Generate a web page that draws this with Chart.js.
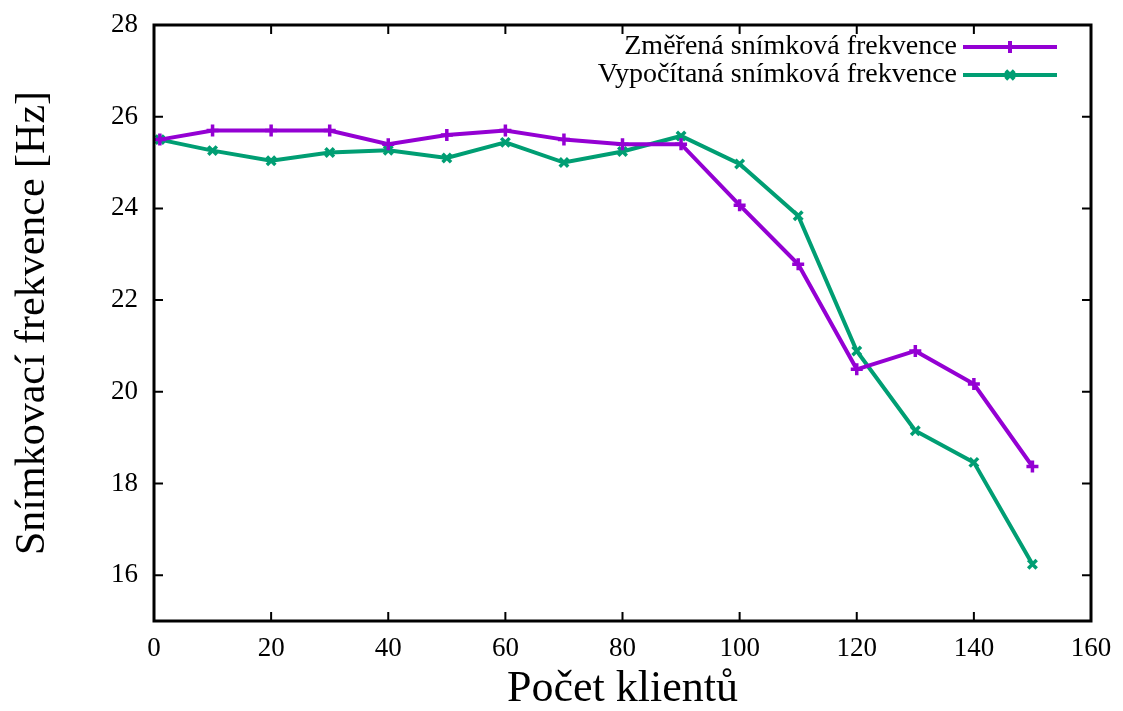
<!DOCTYPE html>
<html>
<head>
<meta charset="utf-8">
<script src="https://cdn.jsdelivr.net/npm/chart.js@4.4.1/dist/chart.umd.min.js"></script>
<style>
	html, body { margin: 0; padding: 0; background: #fff; }
	#wrap { width: 1123px; height: 711px; }
</style>
</head>
<body>
<div id="wrap"><canvas id="chart"></canvas></div>
<script>
const clients = [1, 10, 20, 30, 40, 50, 60, 70, 80, 90, 100, 110, 120, 130, 140, 150];
const measured = [25.5, 25.7, 25.7, 25.7, 25.4, 25.6, 25.7, 25.5, 25.4, 25.4, 24.07, 22.78, 20.49, 20.89, 20.17, 18.37];
const computed = [25.5, 25.26, 25.04, 25.22, 25.27, 25.1, 25.44, 25.0, 25.24, 25.58, 24.97, 23.84, 20.89, 19.15, 18.46, 16.24];
const xTicks = [0, 20, 40, 60, 80, 100, 120, 140, 160];
const yTicks = [16, 18, 20, 22, 24, 26, 28];
const labels = ['Změřená snímková frekvence', 'Vypočítaná snímková frekvence'];
const colors = ['#9400d3', '#009e73'];

const FONT = '"Liberation Serif", "DejaVu Serif", serif';

// frame, inward ticks on all four sides, and a gnuplot-like key
const framePlugin = {
	id: 'frame',
	afterDatasetsDraw(chart) {
		const ctx = chart.ctx;
		const a = chart.chartArea;
		const xs = chart.scales.x;
		const ys = chart.scales.y;
		ctx.save();
		ctx.strokeStyle = '#000';
		ctx.lineWidth = 2;
		const t = 9;
		xTicks.forEach(v => {
			const px = xs.getPixelForValue(v);
			ctx.beginPath();
			ctx.moveTo(px, a.bottom); ctx.lineTo(px, a.bottom - t);
			ctx.moveTo(px, a.top); ctx.lineTo(px, a.top + t);
			ctx.stroke();
		});
		yTicks.forEach(v => {
			const py = ys.getPixelForValue(v);
			ctx.beginPath();
			ctx.moveTo(a.left, py); ctx.lineTo(a.left + t, py);
			ctx.moveTo(a.right, py); ctx.lineTo(a.right - t, py);
			ctx.stroke();
		});
		ctx.lineWidth = 3;
		ctx.strokeRect(a.left, a.top, a.right - a.left, a.bottom - a.top);

		// key
		ctx.font = '28px ' + FONT;
		ctx.textAlign = 'right';
		ctx.textBaseline = 'middle';
		chart.data.datasets.forEach((ds, i) => {
			const y = 47 + i * 28;
			ctx.fillStyle = '#000';
			ctx.fillText(ds.label, 957, y);
			ctx.strokeStyle = ds.borderColor;
			ctx.lineWidth = ds.borderWidth;
			ctx.beginPath();
			ctx.moveTo(963, y); ctx.lineTo(1057, y);
			ctx.stroke();
			Chart.helpers.drawPoint(ctx, {
				pointStyle: ds.pointStyle,
				radius: ds.pointRadius,
				borderWidth: ds.pointBorderWidth,
			}, 1010, y);
		});
		ctx.restore();
	}
};

function series(i, values, style) {
	return {
		label: labels[i],
		data: clients.map((x, k) => ({ x: x, y: values[k] })),
		borderColor: colors[i],
		backgroundColor: colors[i],
		borderWidth: 4,
		pointStyle: style,
		pointRadius: 6,
		pointBorderWidth: 3.5,
		pointBorderColor: colors[i],
		tension: 0,
		fill: false,
	};
}

new Chart(document.getElementById('chart'), {
	type: 'line',
	data: {
		datasets: [
			series(0, measured, 'cross'),
			series(1, computed, 'crossRot'),
		],
	},
	options: {
		responsive: true,
		maintainAspectRatio: false,
		animation: false,
		layout: { padding: { left: 0, top: 25, right: 32, bottom: 0 } },
		plugins: {
			legend: { display: false },
			tooltip: { enabled: false },
		},
		scales: {
			x: {
				type: 'linear',
				min: 0,
				max: 160,
				afterBuildTicks(scale) { scale.ticks = xTicks.map(v => ({ value: v })); },
				afterFit(scale) {
					scale.height = 90;
					scale.paddingLeft = 0;
					scale.paddingRight = 0;
				},
				grid: { display: false, drawTicks: false },
				border: { display: false },
				ticks: {
					padding: 12,
					color: '#000',
					font: { family: FONT, size: 27 },
				},
				title: {
					display: true,
					text: 'Počet klientů',
					color: '#000',
					font: { family: FONT, size: 44, lineHeight: 1 },
					padding: { top: 0, bottom: 0 },
				},
			},
			y: {
				min: 15,
				max: 28,
				afterBuildTicks(scale) { scale.ticks = yTicks.map(v => ({ value: v })); },
				afterFit(scale) {
					scale.width = 154;
					scale.paddingTop = 0;
					scale.paddingBottom = 0;
				},
				grid: { display: false, drawTicks: false },
				border: { display: false },
				ticks: {
					padding: 16,
					color: '#000',
					font: { family: FONT, size: 27 },
				},
				title: {
					display: true,
					text: 'Snímkovací frekvence [Hz]',
					color: '#000',
					font: { family: FONT, size: 42 },
					padding: { top: 8, bottom: 0 },
				},
			},
		},
	},
	plugins: [framePlugin],
});
</script>
</body>
</html>
